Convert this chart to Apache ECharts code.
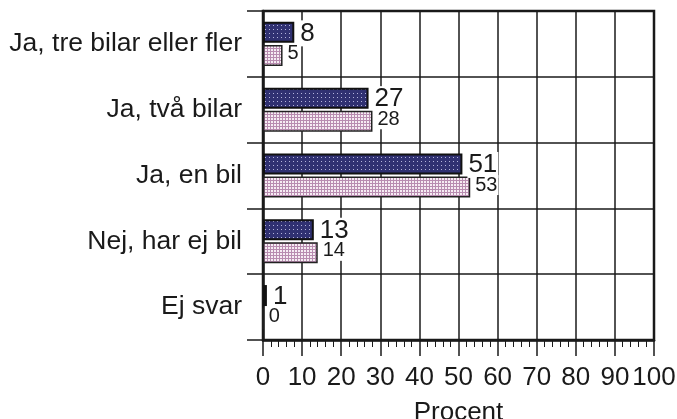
<!DOCTYPE html>
<html>
<head>
<meta charset="utf-8">
<script src="https://cdn.jsdelivr.net/npm/echarts@6/dist/echarts.min.js"></script>
<style>
  html, body { margin: 0; padding: 0; background: #fff; }
  #main { width: 677px; height: 419px; }
</style>
</head>
<body>
<div id="main"></div>
<script>
var categories = ['Ja, tre bilar eller fler', 'Ja, två bilar', 'Ja, en bil', 'Nej, har ej bil', 'Ej svar'];
var seriesA = [8, 27, 51, 13, 1];
var seriesB = [5, 28, 53, 14, 0];
var xTicks = [0, 10, 20, 30, 40, 50, 60, 70, 80, 90, 100];

// dotted fill patterns like the original print
function makePattern(kind) {
    var c = document.createElement('canvas');
    var ctx = c.getContext('2d');
    if (kind === 'dark') {
        c.width = 4; c.height = 4;
        ctx.fillStyle = '#303172';
        ctx.fillRect(0, 0, 4, 4);
        ctx.fillStyle = '#b4b4dc';
        ctx.fillRect(1, 1, 1, 1);
    } else {
        c.width = 3; c.height = 3;
        ctx.fillStyle = '#f6ecf3';
        ctx.fillRect(0, 0, 3, 3);
        ctx.fillStyle = '#b88cb0';
        ctx.fillRect(0, 0, 3, 1);
        ctx.fillRect(0, 0, 1, 3);
    }
    return { image: c, repeat: 'repeat' };
}

var dom = document.getElementById('main');
var myChart = echarts.init(dom, null, { renderer: 'canvas' });

var option = {
    animation: false,
    textStyle: { fontFamily: 'Liberation Sans, Arial, sans-serif' },
    grid: {
        left: 263,
        right: 23,
        top: 11,
        bottom: 79,
        outerBoundsMode: 'none',
        containLabel: false,
        show: true,
        borderColor: '#1a1a1a',
        borderWidth: 2.5
    },
    xAxis: {
        type: 'value',
        min: 0,
        max: 100,
        interval: 10,
        name: 'Procent',
        nameLocation: 'middle',
        nameGap: 60,
        nameTextStyle: { fontSize: 26, color: '#1a1a1a' },
        axisLine: { show: true, lineStyle: { color: '#1a1a1a', width: 2.5 } },
        axisTick: { show: true, length: 16, lineStyle: { color: '#1a1a1a', width: 1.5 } },
        minorTick: { show: true, splitNumber: 5, length: 7, lineStyle: { color: '#1a1a1a', width: 1 } },
        axisLabel: {
            fontSize: 26,
            color: '#1a1a1a',
            margin: 25,
            formatter: function (v) { return xTicks.indexOf(v) >= 0 ? String(v) : ''; }
        },
        splitLine: { show: true, lineStyle: { color: '#1a1a1a', width: 1.5 } }
    },
    yAxis: {
        type: 'category',
        data: categories,
        inverse: true,
        axisLine: { show: true, lineStyle: { color: '#1a1a1a', width: 2.5 } },
        axisTick: { show: true, length: 16, lineStyle: { color: '#1a1a1a', width: 1.5 } },
        axisLabel: { fontSize: 26.5, color: '#1a1a1a', margin: 21 },
        splitLine: { show: true, lineStyle: { color: '#1a1a1a', width: 1.5 } }
    },
    series: [
        {
            name: 'A',
            type: 'bar',
            data: seriesA,
            barWidth: 21,
            barGap: '10%',
            itemStyle: { color: makePattern('dark'), borderColor: '#111', borderWidth: 2 },
            label: {
                show: true,
                position: 'right',
                distance: 5,
                offset: [0, 1],
                fontSize: 26,
                color: '#1a1a1a',
                backgroundColor: '#fff',
                padding: [0, 1]
            },
            z: 3
        },
        {
            name: 'B',
            type: 'bar',
            data: seriesB,
            barWidth: 21,
            barGap: '10%',
            itemStyle: { color: makePattern('light'), borderColor: '#222', borderWidth: 1.5 },
            label: {
                show: true,
                position: 'right',
                distance: 4,
                offset: [0, -2],
                fontSize: 20,
                color: '#1a1a1a',
                backgroundColor: '#fff',
                padding: [0, 1]
            },
            z: 3
        }
    ]
};

myChart.setOption(option, true);

window.addEventListener('resize', function () {
    myChart.resize();
});
</script>
</body>
</html>
